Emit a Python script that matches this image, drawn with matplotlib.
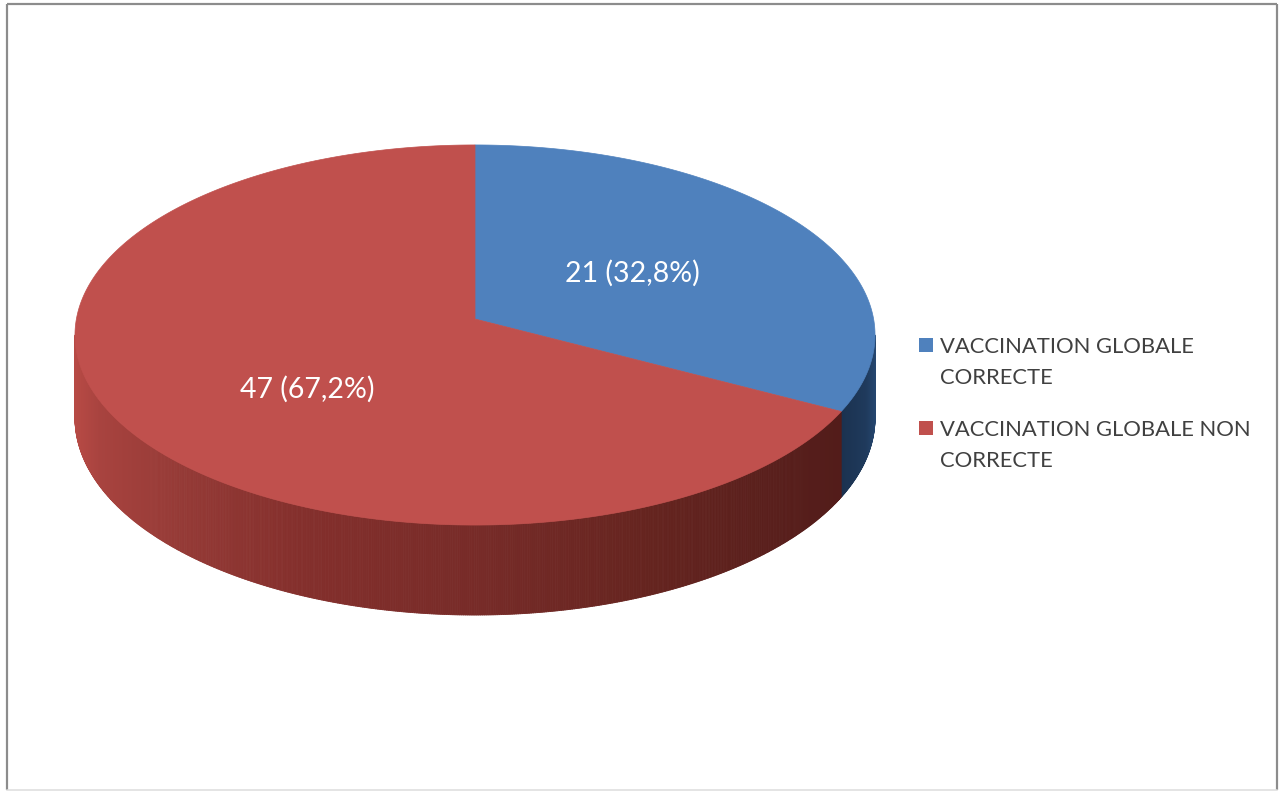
import numpy as np
import matplotlib
matplotlib.use("Agg")
import matplotlib.pyplot as plt
from matplotlib.patches import Polygon, Rectangle
from matplotlib.collections import PolyCollection
from matplotlib.colors import to_rgb

# ---- data ----
categories = ["VACCINATION GLOBALE\nCORRECTE", "VACCINATION GLOBALE NON\nCORRECTE"]
counts = [21, 47]
percents = [32.8, 67.2]
top_colors = ["#4F81BD", "#C0504D"]

# ---- 3D pie geometry (screen pixels) ----
CX, CY = 475, 319          # projected centre of the disc
A, B = 398.6, 188.7        # half-axes of the projected rim
K = 0.0842                 # perspective strength
DEPTH = 82.4               # disc thickness

FONT = ["Lato", "DejaVu Sans"]


def project(theta_deg, r=1.0):
    t = np.radians(theta_deg)
    u = r * np.sin(t)
    v = -r * np.cos(t)
    s = 1.0 / (1.0 - K * v)
    return CX + A * u * s, CY + B * v * s, s


def lerp_color(x, stops):
    xs = [p[0] for p in stops]
    cs = np.array([to_rgb(p[1]) for p in stops])
    return tuple(np.interp(x, xs, cs[:, i]) for i in range(3))


side_stops = [
    [(841, "#1B3250"), (865, "#1F3A5C"), (876, "#264872")],
    [(75, "#B74A45"), (100, "#A8433F"), (180, "#953A36"), (300, "#842F2C"),
     (480, "#772B28"), (650, "#65241F"), (845, "#521C1A")],
]

fig = plt.figure(figsize=(12.85, 7.94), dpi=100)
ax = fig.add_axes([0, 0, 1, 1])
ax.set_xlim(0, 1285)
ax.set_ylim(794, 0)
ax.axis("off")

# chart frame
px = 0.72
ax.plot([7, 7], [4, 790], color="#8c8c8c", lw=2.2 * px, solid_capstyle="butt")
ax.plot([7, 1277], [4, 4], color="#8c8c8c", lw=2.2 * px, solid_capstyle="butt")
ax.plot([1277, 1277], [4, 790], color="#8c8c8c", lw=2.2 * px, solid_capstyle="butt")
ax.plot([7, 1277], [789.5, 789.5], color="#dcdcdc", lw=1.5 * px)

fractions = np.array(percents) / np.sum(percents)
edges = np.concatenate([[0.0], np.cumsum(fractions) * 360.0])

theta_right = np.degrees(np.arccos(-K))
theta_left = 360.0 - theta_right

# side walls
for i in range(len(percents)):
    lo = max(edges[i], theta_right)
    hi = min(edges[i + 1], theta_left)
    if hi <= lo:
        continue
    th = np.linspace(lo, hi, int((hi - lo) * 4) + 2)
    polys, cols = [], []
    for t1, t2 in zip(th[:-1], th[1:]):
        x1, y1, s1 = project(t1)
        x2, y2, s2 = project(t2)
        polys.append([(x1, y1), (x2, y2), (x2, y2 + DEPTH * s2), (x1, y1 + DEPTH * s1)])
        cols.append(lerp_color((x1 + x2) / 2, side_stops[i]))
    ax.add_collection(PolyCollection(polys, facecolors=cols, edgecolors=cols,
                                     linewidths=0.6, zorder=2))

# top faces
for i in range(len(percents)):
    th = np.linspace(edges[i], edges[i + 1], 400)
    xs, ys, _ = project(th)
    pts = [(CX, CY)] + list(zip(xs, ys))
    ax.add_patch(Polygon(pts, closed=True, facecolor=top_colors[i],
                         edgecolor=top_colors[i], lw=0.5, zorder=3))

# data labels
label_radius = [0.47, 0.48]
label_drop = [0, 24]
for i in range(len(percents)):
    mid = (edges[i] + edges[i + 1]) / 2
    lx, ly, _ = project(mid, label_radius[i])
    txt = f"{counts[i]} ({percents[i]:.1f}%)".replace(".", ",")
    ax.text(lx, ly + label_drop[i] + 7, txt, color="white", fontsize=20.5,
            family=FONT, ha="center", va="baseline", zorder=5)

# legend
leg_x, leg_top, leg_gap, line_gap = 919, 338, 83, 31
for i, cat in enumerate(categories):
    y0 = leg_top + i * leg_gap
    ax.add_patch(Rectangle((leg_x, y0), 14, 14, facecolor=top_colors[i],
                           edgecolor="none", zorder=5))
    for j, line in enumerate(cat.split("\n")):
        ax.text(leg_x + 21, y0 + 15 + j * line_gap, line, color="#404040",
                fontsize=15.8, family=FONT, ha="left", va="baseline", zorder=5)

fig.savefig("out.png", dpi=100, facecolor="white")
